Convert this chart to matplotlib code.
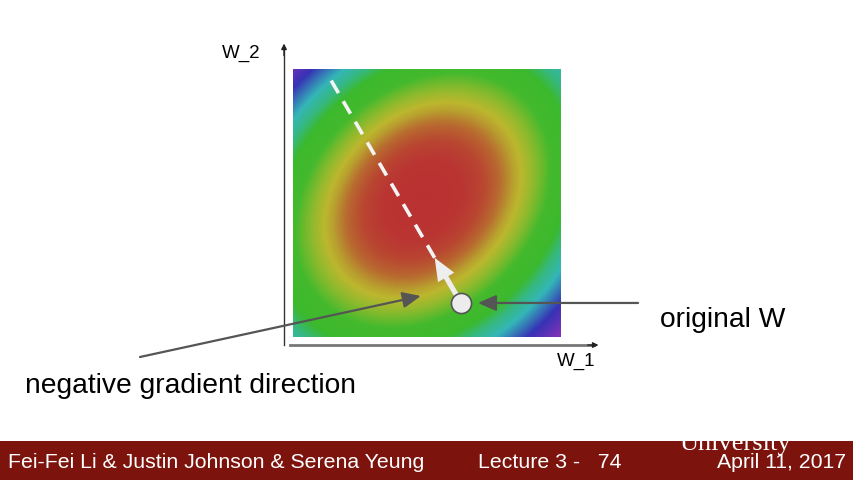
import numpy as np
import matplotlib.pyplot as plt
from matplotlib import font_manager
from matplotlib.colors import LinearSegmentedColormap

# loss surface (quadratic bowl, slightly tilted)
LOSS_CENTER = (-0.03, 0.02)
LOSS_CROSS = 0.5
LOSS_LEVELS = [0.0, 0.08, 0.18, 0.3, 0.42, 0.5, 0.65, 0.85, 1.15, 1.35, 1.6, 2.05, 3.0]
LEVEL_COLORS = ["#bb3232", "#ba3633", "#b94631", "#b86a30", "#b9a02f", "#bcb72e",
                "#8cba2d", "#44b92d", "#3cb92d", "#36b880", "#34b6b8", "#3733b5",
                "#bb32bb"]

# weights and direction
W0 = (0.254, -0.746)
NEG_GRAD = (-0.985, 1.687)
STEP = 0.2

AXIS_LABELS = ["W_1", "W_2"]
FOOTER_LEFT = "Fei-Fei Li & Justin Johnson & Serena Yeung"
FOOTER_MID = "Lecture 3 -   74"
FOOTER_RIGHT = "April 11, 2017"

W, H = 854, 480
installed = {f.name for f in font_manager.fontManager.ttflist}
SANS = "Liberation Sans"
NARROW = "Liberation Sans Narrow" if "Liberation Sans Narrow" in installed else "Liberation Sans"
plt.rcParams["font.family"] = [SANS, "DejaVu Sans"]

fig = plt.figure(figsize=(W / 100, H / 100), dpi=100)
fig.patch.set_facecolor("white")


def fx(px):
    return px / W


def fy(py):
    return 1 - py / H


ax = fig.add_axes([fx(293), fy(337), 268 / W, 268 / H])
ax.set_xlim(-1, 1)
ax.set_ylim(-1, 1)
ax.axis("off")

g = np.linspace(-1, 1, 400)
U, V = np.meshgrid(g, g)
U = U - LOSS_CENTER[0]
V = V - LOSS_CENTER[1]
L = U ** 2 + V ** 2 - LOSS_CROSS * U * V
lmax = LOSS_LEVELS[-1]
cmap = LinearSegmentedColormap.from_list(
    "loss", list(zip(np.array(LOSS_LEVELS) / lmax, LEVEL_COLORS)))
ax.imshow(L, extent=(-1, 1, -1, 1), origin="lower", cmap=cmap,
          vmin=0, vmax=lmax, interpolation="bilinear", zorder=1)

# axis lines
x_axis_y = -1.06
y_axis_x = -1.067
ax.plot([y_axis_x, y_axis_x], [-1.06, 1.16], color="#333333", lw=1.0,
        clip_on=False, zorder=2)
ax.annotate("", xy=(y_axis_x, 1.19), xytext=(y_axis_x, 1.1),
            arrowprops=dict(arrowstyle="-|>", color="#222222", lw=1,
                            mutation_scale=8, shrinkA=0, shrinkB=0),
            annotation_clip=False)
ax.plot([-1.022, 1.25], [x_axis_y, x_axis_y], color="#777777", lw=2.0,
        clip_on=False, zorder=2)
ax.annotate("", xy=(1.28, x_axis_y), xytext=(1.2, x_axis_y),
            arrowprops=dict(arrowstyle="-|>", color="#222222", lw=1,
                            mutation_scale=8, shrinkA=0, shrinkB=0),
            annotation_clip=False)
fig.text(fx(241), fy(53), AXIS_LABELS[1], fontsize=13.5, ha="center", va="center")
fig.text(fx(576), fy(361), AXIS_LABELS[0], fontsize=13.5, ha="center", va="center")

# gradient direction
tip = (W0[0] + STEP * NEG_GRAD[0], W0[1] + STEP * NEG_GRAD[1])
far = (W0[0] + NEG_GRAD[0], W0[1] + NEG_GRAD[1])
ax.plot([tip[0], far[0]], [tip[1], far[1]], color="#f4f4f4",
        lw=2.6, dashes=(4, 2.6), zorder=3)
ax.arrow(W0[0], W0[1], tip[0] - W0[0], tip[1] - W0[1], width=0.038,
         head_width=0.14, head_length=0.17, length_includes_head=True,
         fc="#eeeeee", ec="none", zorder=4)
ax.plot([W0[0]], [W0[1]], marker="o", ms=14.5, mfc="#ececec", mec="#555555",
        mew=1.2, zorder=5)

# callouts
head = "-|>,head_length=0.5,head_width=0.22"
ax.annotate("", xy=(W0[0] + 0.126, W0[1]), xytext=(1.575, W0[1]),
            arrowprops=dict(arrowstyle=head, color="#555555", lw=1.6,
                            mutation_scale=22, shrinkA=0, shrinkB=0),
            zorder=6, annotation_clip=False)
ax.annotate("", xy=(W0[0] - 0.30, W0[1] + 0.052), xytext=(fx(140), fy(357)),
            textcoords="figure fraction",
            arrowprops=dict(arrowstyle=head, color="#555555", lw=1.6,
                            mutation_scale=22, shrinkA=0, shrinkB=0),
            zorder=6, annotation_clip=False)
fig.text(fx(660), fy(320), "original W", fontsize=20.3, ha="left", va="center")
fig.text(fx(25), fy(386), "negative gradient direction", fontsize=20.3,
         ha="left", va="center")

# footer band
band = fig.add_axes([0, 0, 1, 39 / H])
band.set_xlim(0, W)
band.set_ylim(0, 39)
band.axis("off")
band.add_patch(plt.Rectangle((0, 0), W, 39, color="#7c130d"))
band.text(735, 30, "University", family=["Liberation Serif", "DejaVu Serif"],
          fontsize=19, color="white", ha="center", va="baseline")
band.text(8, 17, FOOTER_LEFT, family=[NARROW, "DejaVu Sans"], fontsize=15.3,
          color="white", ha="left", va="center")
band.text(478, 17, FOOTER_MID, family=[NARROW, "DejaVu Sans"], fontsize=15.3,
          color="white", ha="left", va="center")
band.text(846, 17, FOOTER_RIGHT, family=[NARROW, "DejaVu Sans"], fontsize=15.3,
          color="white", ha="right", va="center")

fig.savefig("out.png", dpi=100)
